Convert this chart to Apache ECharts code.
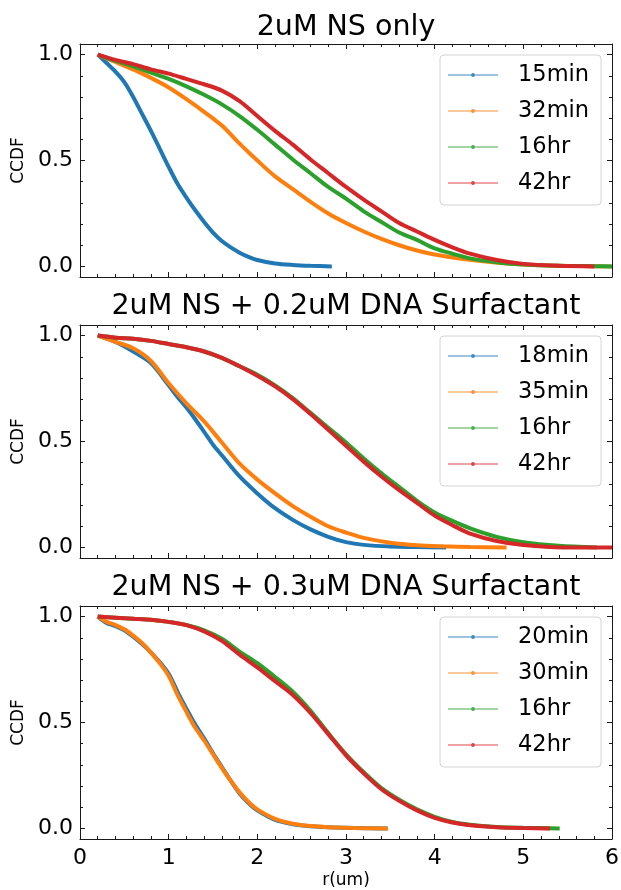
<!DOCTYPE html>
<html><head><meta charset="utf-8">
<script src="https://cdn.jsdelivr.net/npm/echarts@6/dist/echarts.min.js"></script>
<style>html,body{margin:0;padding:0;background:#fff}#c{width:621px;height:890px}</style>
</head><body><div id="c"></div>
<script>
// ---------- data ----------
const panelTitles = ['2uM NS only', '2uM NS + 0.2uM DNA Surfactant', '2uM NS + 0.3uM DNA Surfactant'];
const xAxisName = 'r(um)';
const yAxisName = 'CCDF';
const xTickValues = [0, 1, 2, 3, 4, 5, 6];
const yTickValues = [0, 0.5, 1.0];
const yMinorTickValues = [0.1, 0.2, 0.3, 0.4, 0.6, 0.7, 0.8, 0.9];

// panel 1: 2uM NS only
const p1Names = ['15min', '32min', '16hr', '42hr'];
const p1_15min_x = [0.2,0.3,0.4,0.5,0.6,0.7,0.8,0.9,1.0,1.1,1.2,1.3,1.4,1.5,1.6,1.7,1.8,1.9,2.0,2.2,2.4,2.6,2.84];
const p1_15min_y = [1.0,0.96,0.92,0.87,0.80,0.72,0.64,0.555,0.47,0.39,0.325,0.265,0.21,0.16,0.12,0.09,0.065,0.045,0.03,0.014,0.007,0.003,0.0];
const p1_32min_x = [0.2,0.4,0.6,0.8,1.0,1.2,1.4,1.6,1.8,2.0,2.2,2.4,2.6,2.8,3.0,3.2,3.4,3.6,3.8,4.0,4.3,4.6,5.0,5.4,6.0];
const p1_32min_y = [1.0,0.965,0.93,0.89,0.845,0.79,0.73,0.665,0.58,0.50,0.425,0.365,0.305,0.25,0.205,0.165,0.13,0.10,0.075,0.056,0.036,0.022,0.009,0.003,0.0];
const p1_16hr_x = [0.2,0.4,0.6,0.8,1.0,1.2,1.4,1.6,1.8,2.0,2.2,2.4,2.6,2.8,3.0,3.2,3.4,3.6,3.8,4.0,4.2,4.4,4.7,5.0,5.4,5.8,6.0];
const p1_16hr_y = [1.0,0.97,0.945,0.915,0.885,0.85,0.81,0.765,0.71,0.645,0.575,0.505,0.44,0.375,0.32,0.26,0.21,0.16,0.125,0.085,0.06,0.038,0.02,0.009,0.003,0.001,0.0];
const p1_42hr_x = [0.2,0.4,0.6,0.8,1.0,1.2,1.4,1.6,1.8,2.0,2.2,2.4,2.6,2.8,3.0,3.2,3.4,3.6,3.8,4.0,4.2,4.4,4.7,5.0,5.4,5.8];
const p1_42hr_y = [1.0,0.975,0.955,0.93,0.91,0.885,0.86,0.83,0.78,0.71,0.64,0.575,0.505,0.44,0.375,0.315,0.26,0.205,0.165,0.125,0.09,0.06,0.03,0.012,0.003,0.0];

// panel 2: 2uM NS + 0.2uM DNA Surfactant
const p2Names = ['18min', '35min', '16hr', '42hr'];
const p2_18min_x = [0.2,0.4,0.6,0.8,1.0,1.1,1.2,1.3,1.4,1.5,1.6,1.8,2.0,2.2,2.4,2.6,2.8,3.0,3.2,3.5,3.8,4.13];
const p2_18min_y = [1.0,0.97,0.925,0.87,0.765,0.71,0.66,0.605,0.545,0.485,0.435,0.335,0.255,0.185,0.13,0.085,0.05,0.025,0.012,0.004,0.002,0.0];
const p2_35min_x = [0.2,0.4,0.6,0.8,1.0,1.2,1.4,1.6,1.8,2.0,2.2,2.4,2.6,2.8,3.0,3.2,3.5,3.8,4.1,4.4,4.81];
const p2_35min_y = [1.0,0.97,0.94,0.88,0.775,0.68,0.595,0.495,0.395,0.32,0.255,0.195,0.145,0.10,0.07,0.045,0.022,0.01,0.005,0.002,0.0];
const p2_16hr_x = [0.2,0.4,0.6,0.8,1.0,1.2,1.4,1.6,1.8,2.0,2.2,2.4,2.6,2.8,3.0,3.2,3.4,3.6,3.8,4.0,4.2,4.4,4.7,5.0,5.4,5.83];
const p2_16hr_y = [1.0,0.99,0.985,0.975,0.96,0.945,0.925,0.895,0.855,0.815,0.765,0.705,0.635,0.565,0.495,0.42,0.35,0.285,0.22,0.165,0.125,0.09,0.05,0.025,0.008,0.0];
const p2_42hr_x = [0.2,0.4,0.6,0.8,1.0,1.2,1.4,1.6,1.8,2.0,2.2,2.4,2.6,2.8,3.0,3.2,3.4,3.6,3.8,4.0,4.2,4.4,4.7,5.0,5.45,6.0];
const p2_42hr_y = [1.0,0.99,0.985,0.975,0.96,0.945,0.925,0.895,0.855,0.81,0.76,0.70,0.63,0.555,0.48,0.405,0.335,0.27,0.21,0.15,0.105,0.065,0.03,0.011,0.0,0.0];

// panel 3: 2uM NS + 0.3uM DNA Surfactant
const p3Names = ['20min', '30min', '16hr', '42hr'];
const p3_20min_x = [0.2,0.3,0.4,0.5,0.6,0.7,0.8,0.9,1.0,1.1,1.2,1.3,1.4,1.5,1.6,1.7,1.8,1.9,2.0,2.2,2.4,2.6,2.8,3.1,3.47];
const p3_20min_y = [1.0,0.97,0.955,0.935,0.905,0.87,0.83,0.785,0.73,0.645,0.565,0.49,0.425,0.355,0.29,0.225,0.165,0.12,0.085,0.04,0.02,0.01,0.005,0.002,0.0];
const p3_30min_x = [0.2,0.3,0.4,0.5,0.6,0.7,0.8,0.9,1.0,1.1,1.2,1.3,1.4,1.5,1.6,1.7,1.8,1.9,2.0,2.2,2.4,2.6,2.8,3.1,3.47];
const p3_30min_y = [1.0,0.975,0.96,0.94,0.91,0.875,0.83,0.78,0.72,0.63,0.55,0.475,0.415,0.35,0.285,0.225,0.17,0.125,0.09,0.045,0.022,0.011,0.006,0.002,0.0];
const p3_16hr_x = [0.2,0.4,0.6,0.8,1.0,1.2,1.4,1.6,1.8,2.0,2.2,2.4,2.6,2.8,3.0,3.2,3.4,3.6,3.8,4.0,4.2,4.4,4.7,5.0,5.41];
const p3_16hr_y = [1.0,0.995,0.99,0.985,0.975,0.96,0.935,0.895,0.835,0.78,0.715,0.645,0.555,0.45,0.35,0.265,0.19,0.135,0.09,0.055,0.03,0.017,0.007,0.003,0.0];
const p3_42hr_x = [0.2,0.4,0.6,0.8,1.0,1.2,1.4,1.6,1.8,2.0,2.2,2.4,2.6,2.8,3.0,3.2,3.4,3.6,3.8,4.0,4.2,4.4,4.7,5.0,5.3];
const p3_42hr_y = [1.0,0.995,0.99,0.985,0.975,0.96,0.93,0.885,0.82,0.76,0.695,0.63,0.545,0.445,0.345,0.26,0.185,0.13,0.085,0.05,0.028,0.015,0.006,0.002,0.0];

// ---------- build ----------
const COLORS = ['#1f77b4', '#ff7f0e', '#2ca02c', '#d62728'];
const FONT = 'DejaVu Sans';
const panels = [
  { names: p1Names, xs: [p1_15min_x, p1_32min_x, p1_16hr_x, p1_42hr_x], ys: [p1_15min_y, p1_32min_y, p1_16hr_y, p1_42hr_y] },
  { names: p2Names, xs: [p2_18min_x, p2_35min_x, p2_16hr_x, p2_42hr_x], ys: [p2_18min_y, p2_35min_y, p2_16hr_y, p2_42hr_y] },
  { names: p3Names, xs: [p3_20min_x, p3_30min_x, p3_16hr_x, p3_42hr_x], ys: [p3_20min_y, p3_30min_y, p3_16hr_y, p3_42hr_y] }
];
const gridTops = [44, 325, 606];
const gridH = 233, gridL = 80, gridW = 532;
const titleY = [28, 307, 588];
const legendTops = [55, 336, 617];
const AX = '#1a1a1a';
const LEG_ICON = 'path://M0,9 L100,9 L100,11 L0,11 Z M50,6 A4,4 0 1,1 49.99,6 Z';

const grid = [], xAxis = [], yAxis = [], series = [], legend = [], title = [];
panels.forEach((p, i) => {
  grid.push({ left: gridL, top: gridTops[i], width: gridW, height: gridH, outerBoundsMode: 'none', containLabel: false });
  const last = i === 2;
  ['bottom', 'top'].forEach(pos => {
    xAxis.push({
      type: 'value', gridIndex: i, position: pos, min: 0, max: 6, interval: 1,
      axisLine: { show: true, onZero: false, lineStyle: { color: AX, width: 1 } },
      axisTick: { show: true, inside: true, length: 5, lineStyle: { color: AX, width: 1 } },
      minorTick: { show: true, splitNumber: 5, length: 3, lineStyle: { color: AX, width: 1 } },
      axisLabel: { show: last && pos === 'bottom', fontSize: 22, color: '#000', fontFamily: FONT, margin: 8 },
      splitLine: { show: false }, minorSplitLine: { show: false },
      name: (last && pos === 'bottom') ? xAxisName : '', nameLocation: 'middle', nameGap: 33,
      nameTextStyle: { fontSize: 17, color: '#000', fontFamily: FONT }
    });
  });
  ['left', 'right'].forEach(pos => {
    [true, false].forEach(major => {
      yAxis.push({
        type: 'value', gridIndex: i, position: pos, min: -0.05, max: 1.05,
        axisLine: { show: major, onZero: false, lineStyle: { color: AX, width: 1 } },
        axisTick: { show: true, inside: true, length: major ? 5 : 3, customValues: major ? yTickValues : yMinorTickValues, lineStyle: { color: AX, width: 1 } },
        axisLabel: { show: major && pos === 'left', customValues: yTickValues, formatter: v => v.toFixed(1), fontSize: 22, color: '#000', fontFamily: FONT, margin: 7 },
        splitLine: { show: false },
        name: (major && pos === 'left') ? yAxisName : '', nameLocation: 'middle', nameGap: 48, nameRotate: 90,
        nameTextStyle: { fontSize: 17, color: '#000', fontFamily: FONT }
      });
    });
  });
  p.names.forEach((nm, k) => {
    series.push({
      type: 'line', name: nm, xAxisIndex: i * 2, yAxisIndex: i * 4,
      data: p.xs[k].map((x, j) => [x, p.ys[k][j]]),
      showSymbol: false, symbol: 'circle', symbolSize: 4, smooth: 0.3,
      lineStyle: { width: 4, color: COLORS[k] }, itemStyle: { color: COLORS[k] },
      emphasis: { disabled: true }, animation: false, clip: true, z: 2 + k
    });
  });
  legend.push({
    orient: 'vertical', left: 440, top: legendTops[i],
    data: p.names.map(nm => ({ name: nm, icon: LEG_ICON })),
    padding: [8, 12, 10, 8], itemGap: 12, itemWidth: 50, itemHeight: 4,
    borderColor: '#d4d4d4', borderWidth: 1, borderRadius: 4, backgroundColor: 'rgba(255,255,255,0.8)',
    itemStyle: { opacity: 0.85 },
    textStyle: { fontSize: 22.5, color: '#000', fontFamily: FONT, padding: [0, 0, 0, 15], lineHeight: 24 },
    selectedMode: false
  });
  title.push({
    text: panelTitles[i], left: gridL + gridW / 2, top: titleY[i], textAlign: 'center', textVerticalAlign: 'middle', padding: 0,
    textStyle: { fontSize: 28.5, fontWeight: 'normal', color: '#000', fontFamily: FONT }
  });
});

const chart = echarts.init(document.getElementById('c'), null, { renderer: 'canvas' });
chart.setOption({ backgroundColor: '#fff', animation: false, title, grid, xAxis, yAxis, series, legend });
</script></body></html>
